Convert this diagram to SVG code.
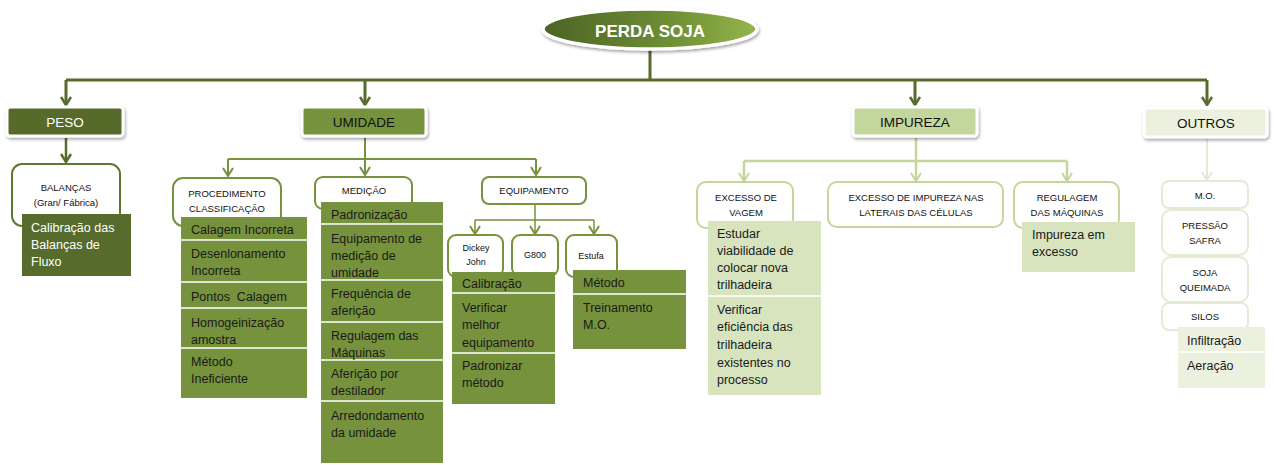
<svg xmlns="http://www.w3.org/2000/svg" width="1275" height="465" viewBox="0 0 1275 465">
<defs>
<linearGradient id="gTitle" x1="0" y1="0" x2="1" y2="0">
<stop offset="0" stop-color="#4b6325"/>
<stop offset="0.6" stop-color="#6f8f35"/>
<stop offset="1" stop-color="#94b54b"/>
</linearGradient>
<filter id="sh" x="-20%" y="-30%" width="140%" height="170%">
<feDropShadow dx="1" dy="2" stdDeviation="1.6" flood-color="#000" flood-opacity="0.35"/>
</filter>
<marker id="aD" markerUnits="userSpaceOnUse" viewBox="0 0 12 10" refX="6" refY="9" markerWidth="12" markerHeight="10" orient="0">
<path d="M1,1 L6,9 L11,1" fill="none" stroke="#566b2c" stroke-width="2.5"/>
</marker>
<marker id="aM" markerUnits="userSpaceOnUse" viewBox="0 0 12 10" refX="6" refY="9" markerWidth="12" markerHeight="10" orient="0">
<path d="M1,1 L6,9 L11,1" fill="none" stroke="#76923c" stroke-width="2"/>
</marker>
<marker id="aL" markerUnits="userSpaceOnUse" viewBox="0 0 12 10" refX="6" refY="9" markerWidth="12" markerHeight="10" orient="0">
<path d="M1,1 L6,9 L11,1" fill="none" stroke="#c3d69b" stroke-width="2"/>
</marker>
<marker id="aX" markerUnits="userSpaceOnUse" viewBox="0 0 12 10" refX="6" refY="9" markerWidth="12" markerHeight="10" orient="0">
<path d="M1,1 L6,9 L11,1" fill="none" stroke="#e4ebd5" stroke-width="2"/>
</marker>
</defs>
<style>
text{font-family:"Liberation Sans",Arial,sans-serif;}
.top{font-size:13.5px;text-anchor:middle;}
.lbl{font-size:9.5px;text-anchor:middle;fill:#111;}
.sm{font-size:9px;text-anchor:middle;fill:#111;}
.it{font-size:12.5px;fill:#1a1a1a;}
.itw{font-size:12.5px;fill:#ffffff;}
.sep{stroke:#ffffff;stroke-width:1.5;}
.oD{fill:#ffffff;stroke:#5f7a30;stroke-width:2;}
.oM{fill:#ffffff;stroke:#76923c;stroke-width:2;}
.oL{fill:#ffffff;stroke:#c3d69b;stroke-width:2;}
.oX{fill:#ffffff;stroke:#e4ebd5;stroke-width:2;}
.topbox{stroke:#ffffff;stroke-width:3;filter:url(#sh);}
</style>

<g id="connectors" fill="none">
<path d="M650,50 V80 M66,80 H1207" stroke="#566b2c" stroke-width="3"/>
<path d="M66,80 V105" stroke="#566b2c" stroke-width="3" marker-end="url(#aD)"/>
<path d="M365,80 V105" stroke="#566b2c" stroke-width="3" marker-end="url(#aD)"/>
<path d="M915,80 V105" stroke="#566b2c" stroke-width="3" marker-end="url(#aD)"/>
<path d="M1207,80 V105" stroke="#566b2c" stroke-width="3" marker-end="url(#aD)"/>
<path d="M66,138 V162" stroke="#566b2c" stroke-width="2.5" marker-end="url(#aD)"/>
<path d="M365,138 V159 M228,159 H536" stroke="#76923c" stroke-width="2"/>
<path d="M228,159 V176" stroke="#76923c" stroke-width="2" marker-end="url(#aM)"/>
<path d="M365,159 V175" stroke="#76923c" stroke-width="2" marker-end="url(#aM)"/>
<path d="M536,159 V175" stroke="#76923c" stroke-width="2" marker-end="url(#aM)"/>
<path d="M535,205 V220 M475,220 H594" stroke="#76923c" stroke-width="1.5"/>
<path d="M475,220 V234" stroke="#76923c" stroke-width="1.5" marker-end="url(#aM)"/>
<path d="M535,220 V234" stroke="#76923c" stroke-width="1.5" marker-end="url(#aM)"/>
<path d="M594,220 V234" stroke="#76923c" stroke-width="1.5" marker-end="url(#aM)"/>
<path d="M916,138 V161 M744,161 H1067" stroke="#c3d69b" stroke-width="2.5"/>
<path d="M744,161 V181" stroke="#c3d69b" stroke-width="2.5" marker-end="url(#aL)"/>
<path d="M916,161 V181" stroke="#c3d69b" stroke-width="2.5" marker-end="url(#aL)"/>
<path d="M1067,161 V181" stroke="#c3d69b" stroke-width="2.5" marker-end="url(#aL)"/>
<path d="M1207,138 V180" stroke="#e4ebd5" stroke-width="2" marker-end="url(#aX)"/>
</g>

<g id="perda-soja">
<ellipse cx="650" cy="29" rx="107" ry="20" fill="url(#gTitle)" stroke="#ffffff" stroke-width="3.5" filter="url(#sh)"/>
<text x="650" y="37" font-size="17" font-weight="bold" fill="#ffffff" text-anchor="middle">PERDA SOJA</text>
</g>

<g id="peso">
<rect x="7" y="107" width="116" height="29" rx="3" fill="#566b2c" class="topbox"/>
<text x="65" y="127" class="top" fill="#ffffff">PESO</text>
</g>
<g id="umidade">
<rect x="302" y="107" width="124" height="29" rx="3" fill="#76923c" class="topbox"/>
<text x="364" y="127" class="top" fill="#111">UMIDADE</text>
</g>
<g id="impureza">
<rect x="853" y="107" width="124" height="29" rx="3" fill="#c3d69b" class="topbox"/>
<text x="915" y="127" class="top" fill="#111">IMPUREZA</text>
</g>
<g id="outros">
<rect x="1144" y="108" width="123" height="29" rx="3" fill="#ebf1de" class="topbox"/>
<text x="1206" y="128" class="top" fill="#111">OUTROS</text>
</g>

<g id="balancas">
<rect x="12" y="164" width="108" height="62" rx="10" class="oD"/>
<text x="66" y="191" class="lbl">BALANÇAS</text>
<text x="66" y="206" class="lbl">(Gran/ Fábrica)</text>
</g>
<g id="calibracao-balancas">
<rect x="22" y="214" width="109" height="62" fill="#566b2c"/>
<text x="31" y="232" class="itw">Calibração das</text>
<text x="31" y="249" class="itw">Balanças de</text>
<text x="31" y="266" class="itw">Fluxo</text>
</g>

<g id="procedimento">
<rect x="173" y="178" width="108" height="48" rx="10" class="oM"/>
<text x="227" y="197" class="lbl">PROCEDIMENTO</text>
<text x="227" y="212" class="lbl">CLASSIFICAÇÃO</text>
</g>
<g id="procedimento-itens">
<rect x="181" y="217" width="126" height="181" fill="#76923c"/>
<path d="M181,240 H307 M181,282 H307 M181,308 H307 M181,348 H307" class="sep"/>
<text x="191" y="234" class="it">Calagem Incorreta</text>
<text x="191" y="258" class="it">Desenlonamento</text>
<text x="191" y="275" class="it">Incorreta</text>
<text x="191" y="301" class="it" xml:space="preserve">Pontos  Calagem</text>
<text x="191" y="327" class="it">Homogeinização</text>
<text x="191" y="344" class="it">amostra</text>
<text x="191" y="366" class="it">Método</text>
<text x="191" y="383" class="it">Ineficiente</text>
</g>

<g id="medicao">
<rect x="315" y="177" width="97" height="32" rx="8" class="oM"/>
<text x="364" y="194" class="lbl">MEDIÇÃO</text>
</g>
<g id="medicao-itens">
<rect x="321" y="202" width="122" height="261" fill="#76923c"/>
<path d="M321,224 H443 M321,280 H443 M321,322 H443 M321,360 H443 M321,401 H443" class="sep"/>
<text x="331" y="219" class="it">Padronização</text>
<text x="331" y="243" class="it">Equipamento de</text>
<text x="331" y="260" class="it">medição de</text>
<text x="331" y="277" class="it">umidade</text>
<text x="331" y="298" class="it">Frequência de</text>
<text x="331" y="315" class="it">aferição</text>
<text x="331" y="340" class="it">Regulagem das</text>
<text x="331" y="357" class="it">Máquinas</text>
<text x="331" y="378" class="it">Aferição por</text>
<text x="331" y="395" class="it">destilador</text>
<text x="331" y="420" class="it">Arredondamento</text>
<text x="331" y="437" class="it">da umidade</text>
</g>

<g id="equipamento">
<rect x="482" y="177" width="104" height="27" rx="7" class="oM"/>
<text x="534" y="194" class="lbl">EQUIPAMENTO</text>
</g>
<g id="dickey-john">
<rect x="448" y="235" width="55" height="42" rx="8" class="oM" stroke-width="1.3"/>
<text x="476" y="251" class="sm">Dickey</text>
<text x="476" y="265" class="sm">John</text>
</g>
<g id="g800">
<rect x="512" y="235" width="46" height="41" rx="8" class="oM" stroke-width="1.3"/>
<text x="535" y="258" class="sm">G800</text>
</g>
<g id="estufa">
<rect x="566" y="235" width="51" height="42" rx="8" class="oM" stroke-width="1.3"/>
<text x="591" y="259" class="sm">Estufa</text>
</g>
<g id="dickey-itens">
<rect x="452" y="272" width="103" height="132" fill="#76923c"/>
<path d="M452,293 H555 M452,353 H555" class="sep"/>
<text x="462" y="288" class="it">Calibração</text>
<text x="462" y="312" class="it">Verificar</text>
<text x="462" y="329" class="it">melhor</text>
<text x="462" y="347" class="it">equipamento</text>
<text x="462" y="370" class="it">Padronizar</text>
<text x="462" y="387" class="it">método</text>
</g>
<g id="estufa-itens">
<rect x="573" y="270" width="113" height="79" fill="#76923c"/>
<path d="M573,294 H686" class="sep"/>
<text x="583" y="287" class="it">Método</text>
<text x="583" y="312" class="it">Treinamento</text>
<text x="583" y="329" class="it">M.O.</text>
</g>

<g id="excesso-vagem">
<rect x="697" y="182" width="96" height="46" rx="9" class="oL"/>
<text x="746" y="201" class="lbl">EXCESSO DE</text>
<text x="746" y="216" class="lbl">VAGEM</text>
</g>
<g id="excesso-vagem-itens">
<rect x="708" y="221" width="113" height="174" fill="#d7e4bd"/>
<path d="M708,296 H821" class="sep"/>
<text x="717" y="238" class="it">Estudar</text>
<text x="717" y="255" class="it">viabilidade de</text>
<text x="717" y="272" class="it">colocar nova</text>
<text x="717" y="289" class="it">trilhadeira</text>
<text x="717" y="314" class="it">Verificar</text>
<text x="717" y="331" class="it">eficiência das</text>
<text x="717" y="349" class="it">trilhadeira</text>
<text x="717" y="367" class="it">existentes no</text>
<text x="717" y="384" class="it">processo</text>
</g>
<g id="excesso-impureza">
<rect x="828" y="182" width="175" height="45" rx="9" class="oL"/>
<text x="916" y="201" class="lbl">EXCESSO DE IMPUREZA NAS</text>
<text x="916" y="216" class="lbl">LATERAIS DAS CÉLULAS</text>
</g>
<g id="regulagem-maquinas">
<rect x="1014" y="182" width="105" height="46" rx="9" class="oL"/>
<text x="1067" y="201" class="lbl">REGULAGEM</text>
<text x="1067" y="216" class="lbl">DAS MÁQUINAS</text>
</g>
<g id="regulagem-itens">
<rect x="1022" y="222" width="113" height="50" fill="#d7e4bd"/>
<text x="1032" y="239" class="it">Impureza em</text>
<text x="1032" y="256" class="it">excesso</text>
</g>

<g id="mo">
<rect x="1162" y="181" width="86" height="27" rx="7" class="oX"/>
<text x="1205" y="199" class="lbl">M.O.</text>
</g>
<g id="pressao-safra">
<rect x="1162" y="210" width="86" height="45" rx="9" class="oX"/>
<text x="1205" y="229" class="lbl">PRESSÃO</text>
<text x="1205" y="244" class="lbl">SAFRA</text>
</g>
<g id="soja-queimada">
<rect x="1162" y="257" width="86" height="45" rx="9" class="oX"/>
<text x="1205" y="276" class="lbl">SOJA</text>
<text x="1205" y="291" class="lbl">QUEIMADA</text>
</g>
<g id="silos">
<rect x="1162" y="303" width="86" height="27" rx="7" class="oX"/>
<text x="1205" y="320" class="lbl">SILOS</text>
</g>
<g id="silos-itens">
<rect x="1178" y="327" width="87" height="61" fill="#ebf1de"/>
<path d="M1178,352 H1265" class="sep"/>
<text x="1187" y="345" class="it">Infiltração</text>
<text x="1187" y="370" class="it">Aeração</text>
</g>
</svg>
